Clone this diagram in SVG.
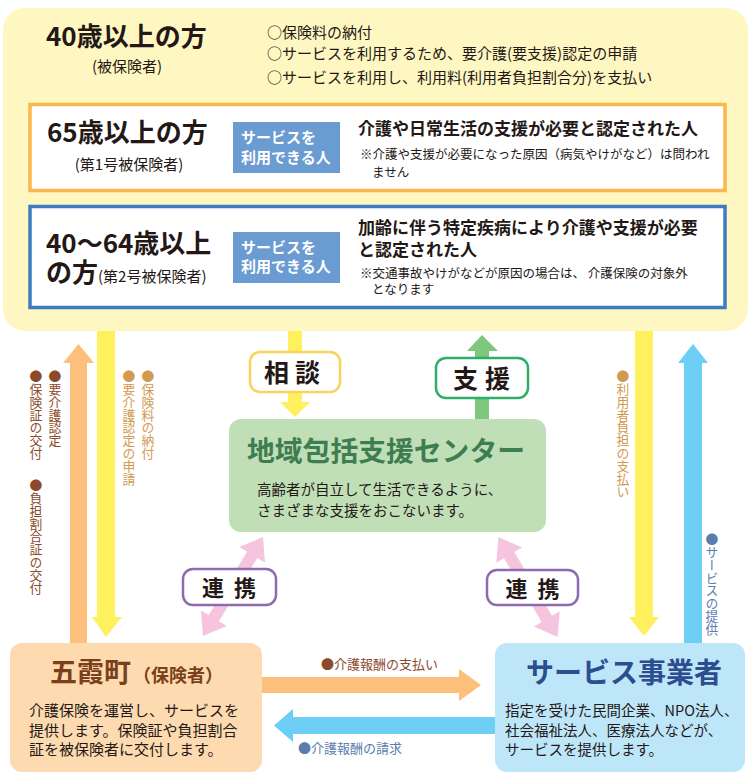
<svg xmlns="http://www.w3.org/2000/svg" width="751" height="778" viewBox="0 0 751 778">
<style>
text{font-family:"Noto Sans CJK JP","Noto Sans",sans-serif;fill:#231815}
.b{font-weight:700}
.v{writing-mode:vertical-rl;font-size:12.8px}
.brown{fill:#8C4A2A}
.tan{fill:#D29A50}
.bg{fill:#5B7DAE}
.lbl{fill:#fff;stroke-width:2.5}
.wl{fill:#fff;font-weight:700;font-size:15px}
</style>
<rect width="751" height="778" fill="#fff"/>
<g id="node-insured">
<rect x="3" y="8" width="745" height="323" rx="22" fill="#FFF7C2"/>
<text x="46" y="46" class="b" font-size="26">40歳以上の方</text>
<text x="127" y="72" font-size="15" text-anchor="middle">(被保険者)</text>
<text x="267" y="37.5" font-size="15">○保険料の納付</text>
<text x="267" y="59" font-size="15">○サービスを利用するため、要介護(要支援)認定の申請</text>
<text x="267" y="82.5" font-size="15">○サービスを利用し、利用料(利用者負担割合分)を支払い</text>
</g>
<g id="node-65">
<rect x="30" y="104.5" width="695" height="86" fill="#fff" stroke="#F8B84E" stroke-width="3.5"/>
<text x="47" y="142" class="b" font-size="26">65歳以上の方</text>
<text x="129" y="170" font-size="15" text-anchor="middle">(第1号被保険者)</text>
<rect x="233" y="122" width="107" height="51" fill="#6A9BD1"/>
<text x="241" y="143" class="wl">サービスを</text>
<text x="241" y="163" class="wl">利用できる人</text>
<text x="358" y="134.5" class="b" font-size="17">介護や日常生活の支援が必要と認定された人</text>
<text x="360" y="159" font-size="12.5">※介護や支援が必要になった原因（病気やけがなど）は問われ</text>
<text x="372" y="177" font-size="12.5">ません</text>
</g>
<g id="node-4064">
<rect x="30" y="206.5" width="695" height="101" fill="#fff" stroke="#3D7CC0" stroke-width="3.5"/>
<text x="46" y="253" class="b" font-size="26">40〜64歳以上</text>
<text x="46" y="282" class="b" font-size="26">の方<tspan font-size="15" font-weight="400">(第2号被保険者)</tspan></text>
<rect x="233" y="232" width="107" height="51" fill="#6A9BD1"/>
<text x="241" y="253" class="wl">サービスを</text>
<text x="241" y="272" class="wl">利用できる人</text>
<text x="358" y="233.5" class="b" font-size="17">加齢に伴う特定疾病により介護や支援が必要</text>
<text x="358" y="255.5" class="b" font-size="17">と認定された人</text>
<text x="360" y="278" font-size="12.5">※交通事故やけがなどが原因の場合は、 介護保険の対象外</text>
<text x="372" y="294" font-size="12.5">となります</text>
</g>
<g id="connectors">
<polygon points="70,643 70,363 63,363 78.5,344 94,363 87,363 87,643" fill="#FDC07C"/>
<polygon points="97,331 115,331 115,617 122,617 106,637 92,617 97,617" fill="#FFF15E"/>
<polygon points="288,331 302,331 302,402 310,402 295,417 280,402 288,402" fill="#FFF15E"/>
<polygon points="475,419 475,351 467,351 482,335 498,351 489,351 489,419" fill="#7FC77D"/>
<polygon points="635,331 653,331 653,617 659,617 644,636 629,617 635,617" fill="#FFF15E"/>
<polygon points="684,643 684,363 678,363 693,344 708,363 702,363 702,643" fill="#6DCFF5"/>
<polygon transform="translate(233,586.5) rotate(121.2)" points="-58,0 -37,-15 -37,-6 37,-6 37,-15 58,0 37,15 37,6 -37,6 -37,15" fill="#F6C4DE"/>
<polygon transform="translate(528,587) rotate(59.4)" points="-58,0 -37,-15 -37,-6 37,-6 37,-15 58,0 37,15 37,6 -37,6 -37,15" fill="#F6C4DE"/>
<polygon points="262,677 459,677 459,669 481,685 459,701 459,693 262,693" fill="#FDC07C"/>
<polygon points="495,717 293,717 293,709 274,725.5 293,742 293,734 495,734" fill="#6DCFF5"/>
<text class="v brown" x="36" y="370">●保険証の交付</text>
<text class="v brown" x="55" y="370">●要介護認定</text>
<text class="v brown" x="36" y="479">●負担割合証の交付</text>
<text class="v tan" x="129" y="370">●要介護認定の申請</text>
<text class="v tan" x="148" y="370">●保険料の納付</text>
<text class="v tan" x="623" y="370">●利用者負担の支払い</text>
<text class="v bg" x="712" y="533">●サービスの提供</text>
<text class="brown" x="321" y="669" font-size="13">●介護報酬の支払い</text>
<text class="bg" x="298" y="753" font-size="13">●介護報酬の請求</text>
</g>
<g id="label-consult">
<rect x="250" y="352" width="90" height="40" rx="10" class="lbl" stroke="#F9D35B"/>
<text x="295" y="381.5" class="b" font-size="25" text-anchor="middle" letter-spacing="6">相談</text>
</g>
<g id="label-support">
<rect x="436" y="358" width="92" height="40" rx="10" class="lbl" stroke="#2FAE6A"/>
<text x="485" y="388" class="b" font-size="25" text-anchor="middle" letter-spacing="7">支援</text>
</g>
<g id="label-renkei-left">
<rect x="183" y="569" width="93" height="36" rx="10" class="lbl" stroke="#8E6BB0"/>
<text x="234" y="596" class="b" font-size="22" text-anchor="middle" letter-spacing="10">連携</text>
</g>
<g id="label-renkei-right">
<rect x="487" y="570" width="91" height="35" rx="10" class="lbl" stroke="#8E6BB0"/>
<text x="537.5" y="597" class="b" font-size="22" text-anchor="middle" letter-spacing="10">連携</text>
</g>
<g id="node-center">
<rect x="229" y="419" width="317" height="113" rx="12" fill="#C0DFB7"/>
<text x="386" y="460.5" class="b" font-size="27.8" text-anchor="middle" style="fill:#3E7D52">地域包括支援センター</text>
<text x="257" y="494.5" font-size="14.5">高齢者が自立して生活できるように、</text>
<text x="257" y="515.5" font-size="14.5">さまざまな支援をおこないます。</text>
</g>
<g id="node-gokamachi">
<rect x="10" y="643" width="252" height="129" rx="12" fill="#FDDAB0"/>
<text x="50" y="682" class="b" font-size="27" style="fill:#7B4019">五霞町<tspan font-size="18" dx="2">（保険者）</tspan></text>
<text x="29" y="716" font-size="15">介護保険を運営し、サービスを</text>
<text x="29" y="736" font-size="15">提供します。保険証や負担割合</text>
<text x="29" y="755" font-size="15">証を被保険者に交付します。</text>
</g>
<g id="node-service">
<rect x="495" y="643" width="250" height="129" rx="12" fill="#BEE6F9"/>
<text x="526" y="682.5" class="b" font-size="28" style="fill:#2C4D8E">サービス事業者</text>
<text x="505" y="716" font-size="14.5">指定を受けた民間企業、NPO法人、</text>
<text x="505" y="736" font-size="14.5">社会福祉法人、医療法人などが、</text>
<text x="505" y="755" font-size="14.5">サービスを提供します。</text>
</g>
</svg>
